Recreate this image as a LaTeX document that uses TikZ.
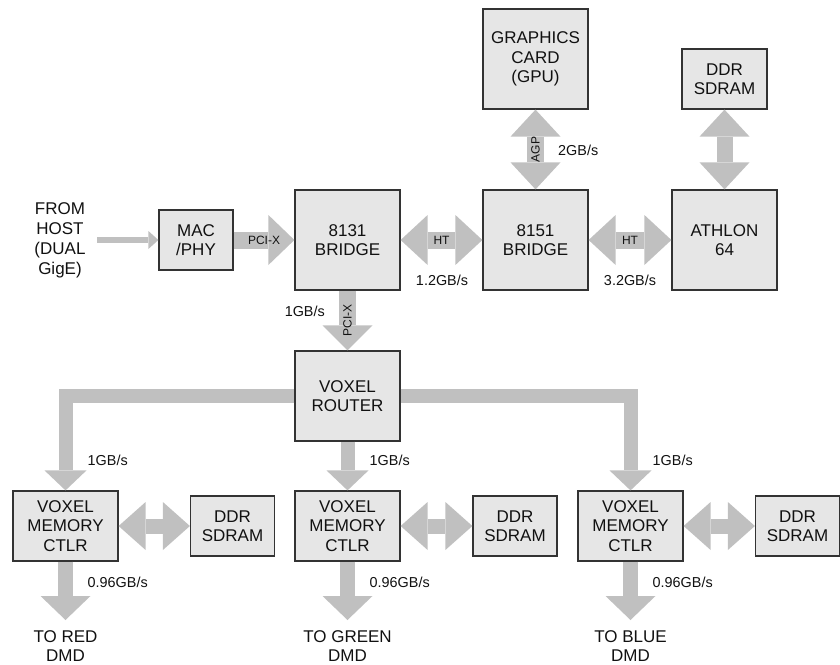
\documentclass[tikz,border=0pt]{standalone}
\usepackage{fontspec}
\setmainfont{Liberation Sans}
\usetikzlibrary{arrows.meta}
\definecolor{boxfill}{HTML}{E6E6E6}
\definecolor{boxline}{HTML}{333333}
\definecolor{arrowgray}{HTML}{C0C0C0}
\definecolor{ink}{HTML}{111111}
\begin{document}
\begin{tikzpicture}[x=1pt,y=-1pt,
  blk/.style={draw=boxline, fill=boxfill, line width=1.2pt, align=center, inner sep=0pt,
    font=\fontsize{17}{19.5}\selectfont, text=ink},
  bigbox/.style={blk, minimum width=105pt, minimum height=100pt},
  vmcbox/.style={blk, minimum width=105pt, minimum height=70pt},
  ddrbox/.style={blk, minimum width=84pt, minimum height=60pt},
  txt/.style={align=center, inner sep=0pt, text=ink, font=\fontsize{17}{20}\selectfont},
  rate/.style={inner sep=0pt, text=ink, font=\fontsize{14.4}{17}\selectfont},
  tag/.style={inner sep=0pt, text=ink, font=\fontsize{12}{14}\selectfont},
  wide/.style={color=arrowgray, line width=17pt, line join=miter,
    -{Triangle[width=50pt,length=26pt,line width=0pt]}},
  widetwo/.style={color=arrowgray, line width=17pt,
    {Triangle[width=50pt,length=27pt,line width=0pt]}-{Triangle[width=50pt,length=27pt,line width=0pt]}},
  memtwo/.style={color=arrowgray, line width=15pt,
    {Triangle[width=48pt,length=27pt,line width=0pt]}-{Triangle[width=48pt,length=27pt,line width=0pt]}},
  busarrow/.style={color=arrowgray, line width=14pt, line join=miter,
    -{Triangle[width=42pt,length=20pt,line width=0pt]}},
  outarrow/.style={color=arrowgray, line width=15pt,
    -{Triangle[width=50pt,length=24pt,line width=0pt]}},
  inarrow/.style={color=arrowgray, line width=6pt,
    -{Triangle[width=18pt,length=10pt,line width=0pt]}},
]
\useasboundingbox (0,0) rectangle (840,664);

% boxes
\node[blk, minimum width=74pt, minimum height=60pt] (mac) at (196,240) {MAC\\/PHY};
\node[bigbox] (b1) at (347.5,240) {8131\\BRIDGE};
\node[bigbox] (gpu) at (535.5,59) {GRAPHICS\\CARD\\(GPU)};
\node[ddrbox, minimum width=85pt] (ddr0) at (724.5,79) {DDR\\SDRAM};
\node[bigbox] (b2) at (535.5,240) {8151\\BRIDGE};
\node[bigbox] (ath) at (724.5,240) {ATHLON\\64};
\node[blk, minimum width=105pt, minimum height=90pt] (router) at (347.5,396) {VOXEL\\ROUTER};
\node[vmcbox] (vmc1) at (65.5,526) {VOXEL\\MEMORY\\CTLR};
\node[vmcbox] (vmc2) at (347.5,526) {VOXEL\\MEMORY\\CTLR};
\node[vmcbox] (vmc3) at (630.5,526) {VOXEL\\MEMORY\\CTLR};
\node[ddrbox] (ddr1) at (232.5,526) {DDR\\SDRAM};
\node[ddrbox] (ddr2) at (515,526) {DDR\\SDRAM};
\node[ddrbox] (ddr3) at (797.5,526) {DDR\\SDRAM};

% free texts
\node[txt] (src) at (60,240) {FROM\\HOST\\(DUAL\\GigE)};
\node[txt, font=\fontsize{17}{19.5}\selectfont] (red) at (65.5,646) {TO RED\\DMD};
\node[txt, font=\fontsize{17}{19.5}\selectfont] (green) at (347.5,646) {TO GREEN\\DMD};
\node[txt, font=\fontsize{17}{19.5}\selectfont] (blue) at (630.5,646) {TO BLUE\\DMD};

\coordinate (in0) at (97,240);
\coordinate (e1) at (65.5,620);
\coordinate (e2) at (347.5,620);
\coordinate (e3) at (630.5,620);

% connectors
\draw[inarrow] (in0) -- (mac.west);
\draw[wide] (mac.east) -- node[tag]{PCI-X} (b1.west);
\draw[widetwo] (b1.east) -- node[tag]{HT} (b2.west);
\draw[widetwo] (b2.east) -- node[tag]{HT} (ath.west);
\draw[widetwo] (gpu.south) -- node[tag, rotate=90]{AGP} (b2.north);
\draw[widetwo, line width=16pt] (ddr0.south) -- (ath.north);
\draw[wide, -{Triangle[width=50pt,length=25pt,line width=0pt]}] (b1.south) -- node[tag, rotate=90]{PCI-X} (router.north);
\draw[busarrow] (router.west) -| (vmc1.north);
\draw[busarrow] (router.east) -| (vmc3.north);
\draw[busarrow] (router.south) -- (vmc2.north);
\draw[memtwo] (vmc1.east) -- (ddr1.west);
\draw[memtwo] (vmc2.east) -- (ddr2.west);
\draw[memtwo] (vmc3.east) -- (ddr3.west);
\draw[outarrow] (vmc1.south) -- (e1);
\draw[outarrow] (vmc2.south) -- (e2);
\draw[outarrow] (vmc3.south) -- (e3);

% rate labels
\node[rate, anchor=east] (r0) at (325,311) {1GB/s};
\node[rate] (r1) at (442,280) {1.2GB/s};
\node[rate] (r2) at (630,280) {3.2GB/s};
\node[rate, anchor=west] (r3) at (558,150) {2GB/s};
\node[rate, anchor=west] (r4) at (87.5,460) {1GB/s};
\node[rate, anchor=west] (r5) at (369.5,460) {1GB/s};
\node[rate, anchor=west] (r6) at (652.5,460) {1GB/s};
\node[rate, anchor=west] (r7) at (87.5,582) {0.96GB/s};
\node[rate, anchor=west] (r8) at (369.5,582) {0.96GB/s};
\node[rate, anchor=west] (r9) at (652.5,582) {0.96GB/s};
\end{tikzpicture}
\end{document}
